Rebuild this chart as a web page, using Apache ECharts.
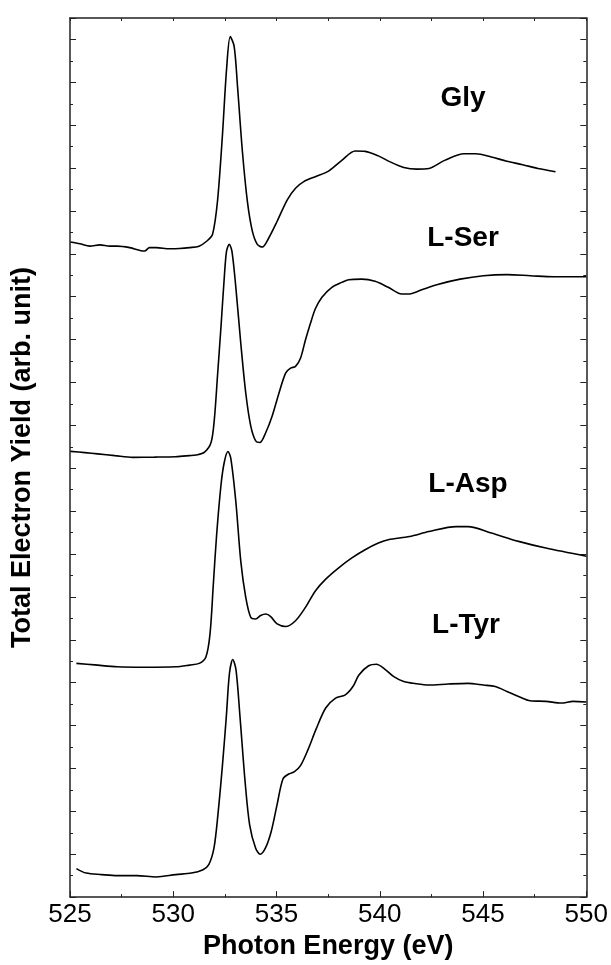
<!DOCTYPE html>
<html>
<head>
<meta charset="utf-8">
<title>O K-edge NEXAFS</title>
<script src="https://cdn.jsdelivr.net/npm/echarts@6/dist/echarts.min.js"></script>
<style>
  html, body { margin: 0; padding: 0; background: #fff; }
  #chart { width: 611px; height: 965px; }
</style>
</head>
<body>
<div id="chart"></div>
<script>
// photon energy (eV) and yield (arb. unit, already offset) for each spectrum
var glyE = [525.02, 525.48, 525.96, 526.45, 526.93, 527.29, 527.89, 528.61, 528.85, 529.18, 529.82, 530.30, 530.78, 531.25, 531.63, 531.90, 532.14, 532.38, 532.58, 532.76, 532.95, 533.11, 533.35, 533.59, 533.83, 534.07, 534.31, 534.63, 535.03, 535.52, 535.92, 536.32, 536.88, 537.52, 538.16, 538.81, 539.29, 539.93, 540.50, 541.16, 541.81, 542.38, 543.14, 544.08, 544.65, 545.40, 546.15, 546.92, 547.66, 548.51];
var glyY = [30.55, 30.47, 30.36, 30.42, 30.36, 30.36, 30.29, 30.13, 30.29, 30.29, 30.24, 30.25, 30.29, 30.36, 30.60, 30.90, 32.44, 35.52, 38.60, 40.13, 39.67, 37.83, 34.75, 32.44, 31.06, 30.44, 30.32, 30.75, 31.52, 32.52, 33.06, 33.37, 33.60, 33.86, 34.36, 34.80, 34.78, 34.57, 34.29, 34.03, 33.95, 33.98, 34.36, 34.67, 34.67, 34.52, 34.32, 34.16, 33.98, 33.83];

var serE = [525.02, 525.72, 526.34, 527.17, 528.04, 529.09, 530.12, 530.78, 531.10, 531.50, 531.83, 531.99, 532.14, 532.31, 532.47, 532.58, 532.71, 532.84, 533.03, 533.27, 533.51, 533.75, 533.99, 534.19, 534.48, 534.79, 535.12, 535.44, 535.68, 535.92, 536.16, 536.40, 536.64, 536.88, 537.20, 537.68, 538.16, 538.49, 539.13, 539.77, 540.41, 541.06, 541.44, 542.00, 542.76, 543.89, 545.02, 546.16, 547.29, 548.42, 550.00];
var serY = [20.79, 20.73, 20.67, 20.59, 20.51, 20.52, 20.54, 20.59, 20.62, 20.74, 21.20, 22.29, 24.28, 26.59, 28.90, 30.13, 30.44, 30.13, 28.44, 25.82, 23.51, 21.98, 21.28, 21.20, 21.67, 22.44, 23.51, 24.44, 24.67, 24.75, 25.13, 25.98, 26.75, 27.44, 27.98, 28.44, 28.67, 28.79, 28.82, 28.72, 28.44, 28.13, 28.13, 28.31, 28.56, 28.82, 28.98, 29.03, 28.98, 28.93, 28.93];

var aspE = [525.31, 526.20, 527.29, 528.61, 530.12, 530.78, 531.26, 531.58, 531.78, 531.94, 532.10, 532.31, 532.47, 532.65, 532.79, 533.03, 533.27, 533.51, 533.75, 533.99, 534.23, 534.48, 534.72, 535.03, 535.44, 535.92, 536.40, 536.88, 537.37, 538.01, 538.65, 539.29, 539.93, 540.41, 541.44, 542.38, 543.70, 544.27, 545.40, 546.72, 548.04, 550.00];
var aspY = [10.90, 10.83, 10.74, 10.72, 10.74, 10.82, 10.90, 11.20, 12.28, 14.59, 16.90, 19.21, 20.28, 20.78, 20.44, 18.44, 15.66, 13.98, 13.05, 12.97, 13.13, 13.20, 13.08, 12.74, 12.62, 12.89, 13.51, 14.28, 14.82, 15.36, 15.82, 16.20, 16.51, 16.67, 16.82, 17.05, 17.28, 17.28, 16.98, 16.59, 16.28, 15.90];

var tyrE = [525.31, 525.78, 526.53, 527.29, 528.23, 529.18, 530.12, 530.88, 531.44, 531.72, 531.97, 532.16, 532.38, 532.57, 532.72, 532.88, 533.04, 533.23, 533.48, 533.70, 533.99, 534.21, 534.46, 534.74, 535.02, 535.31, 535.59, 535.87, 536.16, 536.53, 536.91, 537.38, 537.86, 538.33, 538.70, 538.99, 539.46, 539.84, 540.21, 540.68, 541.16, 541.63, 542.38, 543.32, 544.27, 545.02, 545.59, 546.16, 546.72, 547.29, 548.04, 548.80, 549.36, 550.00];
var tyrY = [1.33, 1.12, 1.05, 1.00, 1.00, 0.94, 1.05, 1.12, 1.28, 1.51, 2.28, 3.82, 6.13, 8.43, 10.43, 11.08, 10.59, 8.43, 5.36, 3.36, 2.28, 2.00, 2.28, 3.05, 4.28, 5.51, 5.74, 5.85, 6.13, 6.89, 7.82, 8.82, 9.28, 9.43, 9.82, 10.36, 10.79, 10.86, 10.66, 10.28, 10.05, 9.97, 9.89, 9.94, 9.97, 9.89, 9.82, 9.59, 9.36, 9.16, 9.13, 9.05, 9.13, 9.10];

var sampleNames = ['Gly', 'L-Ser', 'L-Asp', 'L-Tyr'];
var xTicks = [525, 530, 535, 540, 545, 550];

function pairs(xs, ys) {
  return xs.map(function (x, i) { return [x, ys[i]]; });
}

var spectra = [pairs(glyE, glyY), pairs(serE, serY), pairs(aspE, aspY), pairs(tyrE, tyrY)];
var labelPos = [[463, 98], [463, 238], [468, 484], [466, 625]];

var font = '"Liberation Sans", Arial, sans-serif';
var axisLine = { show: true, onZero: false, lineStyle: { color: '#222', width: 1.5 } };

var chart = echarts.init(document.getElementById('chart'));
chart.setOption({
  backgroundColor: '#fff',
  animation: false,
  grid: { left: 70, right: 22, top: 18, bottom: 59, containLabel: false },
  xAxis: [
    {
      type: 'value',
      min: xTicks[0],
      max: xTicks[xTicks.length - 1],
      interval: 5,
      position: 'bottom',
      axisLine: axisLine,
      axisTick: { inside: true, length: 6, lineStyle: { color: '#222' } },
      minorTick: { show: true, splitNumber: 2, length: 3, lineStyle: { color: '#222' } },
      splitLine: { show: false },
      axisLabel: { fontSize: 26, margin: 5, color: '#000', fontFamily: font, showMinLabel: true, showMaxLabel: true },
      name: 'Photon Energy (eV)',
      nameLocation: 'middle',
      nameGap: 35,
      nameTextStyle: { fontSize: 27, fontWeight: 'bold', color: '#000', fontFamily: font }
    },
    {
      type: 'value',
      min: 525,
      max: 550,
      interval: 2.5,
      position: 'top',
      axisLine: axisLine,
      axisTick: { inside: true, length: 3, lineStyle: { color: '#222' } },
      splitLine: { show: false },
      axisLabel: { show: false }
    }
  ],
  yAxis: [
    {
      type: 'value',
      min: 0,
      max: 41,
      interval: 2,
      position: 'left',
      axisLine: axisLine,
      axisTick: { inside: true, length: 6, lineStyle: { color: '#222' } },
      minorTick: { show: true, splitNumber: 2, length: 3, lineStyle: { color: '#222' } },
      splitLine: { show: false },
      axisLabel: { show: false },
      name: 'Total Electron Yield (arb. unit)',
      nameLocation: 'middle',
      nameGap: 34,
      nameRotate: 90,
      nameTextStyle: { fontSize: 27, fontWeight: 'bold', color: '#000', fontFamily: font }
    },
    {
      type: 'value',
      min: 0,
      max: 41,
      interval: 2,
      position: 'right',
      axisLine: axisLine,
      axisTick: { inside: true, length: 6, lineStyle: { color: '#222' } },
      minorTick: { show: true, splitNumber: 2, length: 3, lineStyle: { color: '#222' } },
      splitLine: { show: false },
      axisLabel: { show: false }
    }
  ],
  series: spectra.map(function (d, i) {
    return {
      name: sampleNames[i],
      type: 'line',
      data: d,
      smooth: 0.3,
      showSymbol: false,
      lineStyle: { color: '#000', width: 1.6 },
      z: 3
    };
  }),
  graphic: sampleNames.map(function (n, i) {
    return {
      type: 'text',
      x: labelPos[i][0],
      y: labelPos[i][1],
      style: {
        text: n,
        fontSize: 28,
        fontWeight: 'bold',
        fontFamily: font,
        fill: '#000',
        align: 'center',
        verticalAlign: 'middle'
      }
    };
  })
});
</script>
</body>
</html>
